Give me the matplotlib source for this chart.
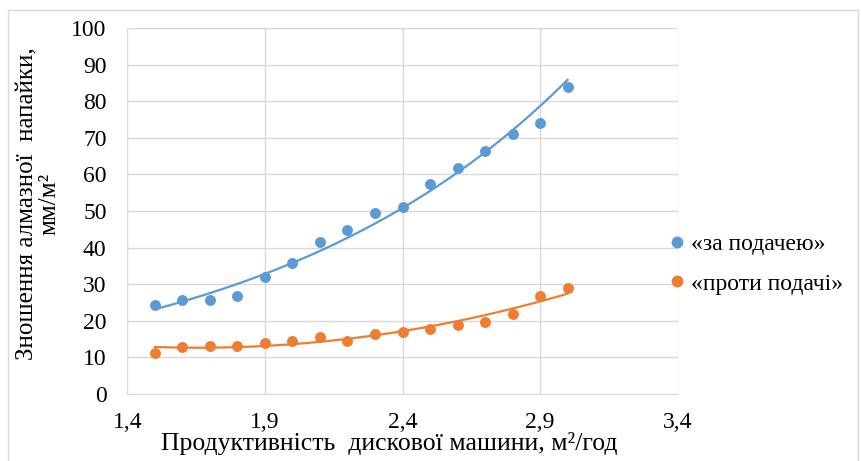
import numpy as np
import matplotlib.pyplot as plt
from matplotlib.lines import Line2D
from matplotlib.patches import Rectangle
from matplotlib.ticker import FuncFormatter

plt.rcParams['font.family'] = ['Liberation Serif', 'DejaVu Serif']

# productivity, m2/h
productivity = [1.5, 1.6, 1.7, 1.8, 1.9, 2.0, 2.1, 2.2, 2.3, 2.4, 2.5, 2.6, 2.7, 2.8, 2.9, 3.0]
# wear, mm/m2
wear_with_feed = [24.2, 25.7, 25.7, 26.9, 32.1, 35.9, 41.6, 44.8, 49.6, 51.2, 57.4, 61.9, 66.4, 71.0, 74.2, 83.9]
wear_against_feed = [11.1, 12.8, 13.2, 13.2, 14.0, 14.6, 15.5, 14.6, 16.4, 16.9, 17.9, 18.8, 19.8, 21.9, 26.7, 29.0]

series_labels = ['«за подачею»', '«проти подачі»']
series_colors = ['#5B9BD5', '#ED7D31']
trend_kind = ['exp', 'poly2']

x_ticks = [1.4, 1.9, 2.4, 2.9, 3.4]
y_ticks = list(range(0, 101, 10))


def trend(x, y, kind, xs):
    # Excel-like trend lines
    if kind == 'exp':
        b, a = np.polyfit(x, np.log(y), 1)
        return np.exp(a + b * xs)
    return np.polyval(np.polyfit(x, y, 2), xs)


fig = plt.figure(figsize=(8.61, 4.61), dpi=100)
ax = fig.add_axes([0.148, 0.1453, 0.639, 0.7937])

fig.patches.append(Rectangle((8 / 861, -0.01), 850 / 861, 0.988, transform=fig.transFigure,
                             fill=False, edgecolor='#d9d9d9', linewidth=1))

x = np.array(productivity)
xs = np.linspace(x.min(), x.max(), 200)
handles = []
for ys, color, kind, label in zip([wear_with_feed, wear_against_feed], series_colors,
                                  trend_kind, series_labels):
    ys = np.array(ys)
    ax.plot(xs, trend(x, ys, kind, xs), color=color, linewidth=1.6, zorder=3)
    ax.scatter(x, ys, s=62, color=color, zorder=4, linewidths=0)
    handles.append(Line2D([], [], linestyle='none', marker='o', markersize=7.5,
                          color=color, label=label))

ax.set_xlim(1.4, 3.4)
ax.set_ylim(0, 100)
ax.set_xticks(x_ticks)
ax.set_yticks(y_ticks)
ax.xaxis.set_major_formatter(FuncFormatter(lambda v, p: f'{v:.1f}'.replace('.', ',')))
ax.grid(True, color='#d9d9d9', linewidth=1)
ax.set_axisbelow(True)
for side in ['top', 'right']:
    ax.spines[side].set_visible(False)
for side in ['left', 'bottom']:
    ax.spines[side].set_color('#d9d9d9')
ax.tick_params(length=0, labelsize=17)
ax.tick_params(axis='y', pad=15)
ax.tick_params(axis='x', pad=13)

ax.set_xlabel('Продуктивність  дискової машини, м²/год', fontsize=18.5)
ax.xaxis.set_label_coords(0.475, -0.105)
ax.set_ylabel('Зношення алмазної  напайки,\nмм/м²', fontsize=18, linespacing=1.0)
ax.yaxis.set_label_coords(-0.122, 0.519)

ax.legend(handles=handles, loc='center left', bbox_to_anchor=(658 / 861, 0.427),
          bbox_transform=fig.transFigure, frameon=False, fontsize=17, borderpad=0,
          handlelength=0.6, handletextpad=0.3, labelspacing=0.75)

fig.savefig('out.png', dpi=100)
